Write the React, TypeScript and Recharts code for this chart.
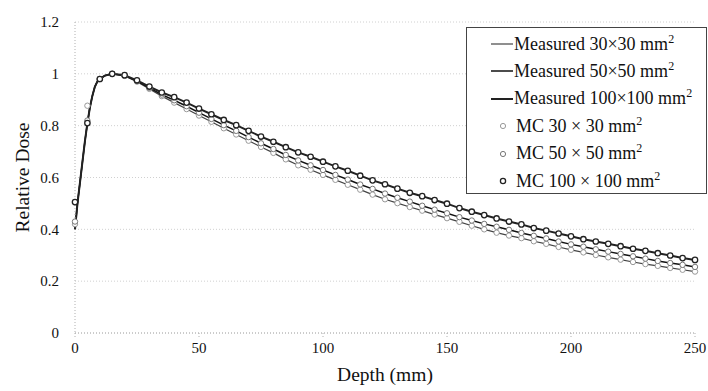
import { LineChart, Line, XAxis, YAxis, CartesianGrid, Label } from 'recharts';

// depth grid (mm) used by both the measurements and the MC points
const depths = [
  0, 5, 10, 15, 20, 25, 30, 35, 40, 45, 50, 55, 60, 65, 70, 75, 80, 85, 90, 95, 100,
  105, 110, 115, 120, 125, 130, 135, 140, 145, 150, 155, 160, 165, 170, 175, 180, 185, 190, 195, 200,
  205, 210, 215, 220, 225, 230, 235, 240, 245, 250,
];

const measured30 = [
  0.40, 0.81, 0.98, 1.0, 0.992, 0.970, 0.942, 0.914, 0.889, 0.864, 0.839, 0.815, 0.790, 0.766, 0.742, 0.718, 0.695, 0.670, 0.647, 0.630, 0.610,
  0.591, 0.572, 0.553, 0.534, 0.516, 0.501, 0.486, 0.472, 0.457, 0.443, 0.429, 0.414, 0.400, 0.387, 0.376, 0.366, 0.354, 0.344, 0.332, 0.321,
  0.311, 0.301, 0.292, 0.283, 0.274, 0.266, 0.259, 0.251, 0.244, 0.237,
];
const measured50 = [
  0.40, 0.81, 0.98, 1.0, 0.993, 0.972, 0.946, 0.920, 0.898, 0.875, 0.850, 0.826, 0.802, 0.780, 0.756, 0.732, 0.710, 0.687, 0.666, 0.647, 0.629,
  0.610, 0.592, 0.573, 0.556, 0.538, 0.522, 0.507, 0.491, 0.476, 0.462, 0.447, 0.434, 0.421, 0.410, 0.398, 0.386, 0.375, 0.365, 0.353, 0.342,
  0.333, 0.323, 0.314, 0.305, 0.296, 0.287, 0.278, 0.270, 0.263, 0.255,
];
const measured100 = [
  0.40, 0.81, 0.98, 1.0, 0.995, 0.975, 0.951, 0.928, 0.910, 0.889, 0.866, 0.844, 0.822, 0.802, 0.780, 0.758, 0.738, 0.717, 0.697, 0.680, 0.661,
  0.643, 0.626, 0.607, 0.589, 0.574, 0.557, 0.541, 0.528, 0.513, 0.499, 0.482, 0.468, 0.455, 0.442, 0.430, 0.419, 0.405, 0.395, 0.384, 0.373,
  0.362, 0.353, 0.344, 0.335, 0.325, 0.317, 0.308, 0.299, 0.289, 0.282,
];

// extra measured points in the build-up region (shared by all fields)
const buildupDepths = [1, 2, 3, 4, 6, 7, 8, 9, 12];
const buildupDose = [0.50, 0.58, 0.66, 0.74, 0.87, 0.915, 0.95, 0.97, 0.993];

// MC points sit on the measured curves except near the surface
const mc30 = [0.42, 0.877, ...measured30.slice(2)];
const mc50 = [0.43, 0.82, ...measured50.slice(2)];
const mc100 = [0.505, 0.81, ...measured100.slice(2)];

const xTicks = [0, 50, 100, 150, 200, 250];
const yTicks = [0, 0.2, 0.4, 0.6, 0.8, 1, 1.2];

const FONT = "'Liberation Serif', 'DejaVu Serif', serif";

function measuredSeries(values: number[]) {
  const pts = depths.map((d, i) => ({ x: d, y: values[i] }));
  buildupDepths.forEach((d, i) => pts.push({ x: d, y: buildupDose[i] }));
  return pts.sort((a, b) => a.x - b.x);
}

const mcSeries = (values: number[]) => depths.map((d, i) => ({ x: d, y: values[i] }));

const LEGEND = [
  { kind: 'line', text: 'Measured 30×30 mm', color: '#444', width: 1.2 },
  { kind: 'line', text: 'Measured 50×50 mm', color: '#111', width: 1.5 },
  { kind: 'line', text: 'Measured 100×100 mm', color: '#222', width: 2 },
  { kind: 'dot', text: 'MC 30 × 30 mm', color: '#999', width: 1 },
  { kind: 'dot', text: 'MC 50 × 50 mm', color: '#777', width: 1 },
  { kind: 'dot', text: 'MC 100 × 100 mm', color: '#222', width: 1.3 },
];

function LegendBox() {
  return (
    <div
      style={{
        position: 'absolute', left: 466, top: 27, width: 239, height: 165,
        border: '1.5px solid #444', background: '#fff', fontFamily: FONT, fontSize: 18, color: '#111',
      }}
    >
      {LEGEND.map((item, i) => (
        <div key={i} style={{ position: 'absolute', left: 0, top: 3 + i * 27.4, height: 26, display: 'flex', alignItems: 'center', whiteSpace: 'nowrap' }}>
          <svg width={item.kind === 'line' ? 47 : 49} height={20} style={{ flex: 'none' }}>
            {item.kind === 'line' ? (
              <line x1={24} x2={46} y1={10} y2={10} stroke={item.color} strokeWidth={item.width} />
            ) : (
              <circle cx={36} cy={10} r={2.6} fill="#fff" stroke={item.color} strokeWidth={item.width} />
            )}
          </svg>
          <span>
            {item.text}
            <sup style={{ fontSize: 12, verticalAlign: 0, position: 'relative', top: -7 }}>2</sup>
          </span>
        </div>
      ))}
    </div>
  );
}

export default function App() {
  return (
    <div style={{ position: 'absolute', left: 0, top: 0, width: 708, height: 391, background: '#fff', fontFamily: FONT }}>
      <LineChart width={708} height={391} margin={{ top: 22, right: 13, left: 0, bottom: 0 }} style={{ fontFamily: FONT }}>
        <CartesianGrid vertical={false} stroke="#d0d0d0" strokeDasharray="1 2" />
        <XAxis
          type="number"
          dataKey="x"
          domain={[0, 250]}
          ticks={xTicks}
          allowDuplicatedCategory={false}
          height={58}
          stroke="#b0b0b0"
          strokeDasharray="1 2"
          tickSize={4}
          tickMargin={5}
          tick={{ fontFamily: FONT, fontSize: 15, fill: '#111' }}
        >
          <Label value="Depth (mm)" position="insideBottom" offset={10} style={{ fontFamily: FONT, fontSize: 19.5, fill: '#111' }} />
        </XAxis>
        <YAxis
          type="number"
          dataKey="y"
          domain={[0, 1.2]}
          ticks={yTicks}
          width={75}
          stroke="#b0b0b0"
          strokeDasharray="1 2"
          tickLine={false}
          tickMargin={10}
          tick={{ fontFamily: FONT, fontSize: 15, fill: '#111' }}
        >
          <Label value="Relative Dose" angle={-90} position="insideLeft" offset={22} style={{ fontFamily: FONT, fontSize: 19.5, fill: '#111', textAnchor: 'middle' }} />
        </YAxis>

        <Line data={measuredSeries(measured30)} dataKey="y" type="linear" stroke="#444" strokeWidth={1.2} dot={false} isAnimationActive={false} />
        <Line data={measuredSeries(measured50)} dataKey="y" type="linear" stroke="#111" strokeWidth={1.5} dot={false} isAnimationActive={false} />
        <Line data={measuredSeries(measured100)} dataKey="y" type="linear" stroke="#222" strokeWidth={2} dot={false} isAnimationActive={false} />

        <Line data={mcSeries(mc30)} dataKey="y" stroke="none" dot={{ r: 2.7, fill: '#fff', stroke: '#999', strokeWidth: 1 }} activeDot={false} isAnimationActive={false} />
        <Line data={mcSeries(mc50)} dataKey="y" stroke="none" dot={{ r: 2.7, fill: '#fff', stroke: '#777', strokeWidth: 1 }} activeDot={false} isAnimationActive={false} />
        <Line data={mcSeries(mc100)} dataKey="y" stroke="none" dot={{ r: 2.7, fill: '#fff', stroke: '#222', strokeWidth: 1.3 }} activeDot={false} isAnimationActive={false} />
      </LineChart>
      <LegendBox />
    </div>
  );
}
